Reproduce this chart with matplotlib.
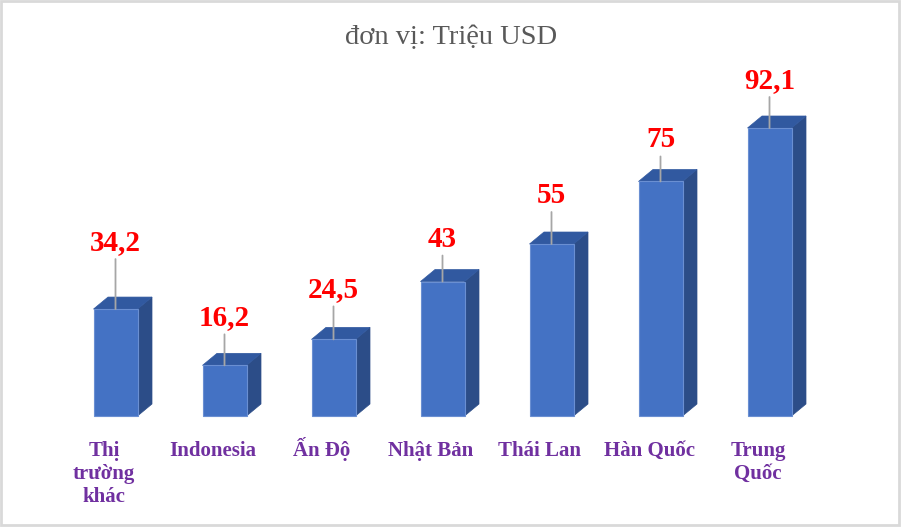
import matplotlib
matplotlib.use("Agg")
import matplotlib.pyplot as plt
from matplotlib.patches import Polygon, Rectangle

# ---- data ----
categories = ["Thị\ntrường\nkhác", "Indonesia", "Ấn Độ", "Nhật Bản",
              "Thái Lan", "Hàn Quốc", "Trung\nQuốc"]
values = [34.2, 16.2, 24.5, 43, 55, 75, 92.1]
title_text = "đơn vị: Triệu USD"

# ---- layout / style ----
label_lift_px = [59, 40, 42, 35, 41, 34, 40]   # label baseline above bar top
FRONT = "#4472C4"
SIDE = "#2C4D88"
TOP = "#3159A0"
EDGE = "#6A8FD2"
RED = "#FF0000"
PURPLE = "#7030A0"
GRAY = "#595959"
SERIF = ["Liberation Serif", "DejaVu Serif"]

W, H = 902, 527
fig = plt.figure(figsize=(W / 100, H / 100), dpi=100)
fig.patch.set_facecolor("white")

# axes geometry (pixels)
px_per_cat = 109.0
tick0_px = 104.0
xl, xr = -0.5, 6.7
left_px = tick0_px + xl * px_per_cat
right_px = tick0_px + xr * px_per_cat
bottom_px_from_top = 416.0
ymax = 100.0
px_per_unit = 3.127
top_px_from_top = bottom_px_from_top - ymax * px_per_unit

ax = fig.add_axes([left_px / W, (H - bottom_px_from_top) / H,
                   (right_px - left_px) / W,
                   (bottom_px_from_top - top_px_from_top) / H])
ax.set_xlim(xl, xr)
ax.set_ylim(0, ymax)
ax.axis("off")

shift = 11.5 / px_per_cat
bw = 44.0 / px_per_cat
dx = 14.5 / px_per_cat
dy = 12.0 / px_per_unit

for i, v in enumerate(values):
    xc = i + shift
    x0, x1 = xc - bw / 2, xc + bw / 2
    # side face
    ax.add_patch(Polygon([(x1, 0), (x1 + dx, dy), (x1 + dx, v + dy), (x1, v)],
                         closed=True, facecolor=SIDE, edgecolor=SIDE,
                         linewidth=0.5, clip_on=False, zorder=2))
    # top face
    ax.add_patch(Polygon([(x0, v), (x0 + dx, v + dy), (x1 + dx, v + dy), (x1, v)],
                         closed=True, facecolor=TOP, edgecolor=TOP,
                         linewidth=0.5, clip_on=False, zorder=2))
    # front face
    ax.add_patch(Rectangle((x0, 0), bw, v, facecolor=FRONT, edgecolor=EDGE,
                           linewidth=0.8, clip_on=False, zorder=3))
    # leader line
    lift = label_lift_px[i]
    ax.annotate("", xy=(xc, v), xytext=(0, lift - 9), textcoords="offset pixels",
                arrowprops=dict(arrowstyle="-", color="#A6A6A6", lw=1.3,
                                shrinkA=0, shrinkB=0), zorder=4,
                annotation_clip=False)
    # value label
    txt = f"{v:g}".replace(".", ",")
    ax.annotate(txt, xy=(xc, v), xytext=(0, lift), textcoords="offset pixels",
                ha="center", va="baseline", color=RED, fontsize=21,
                fontweight="bold", family=SERIF, zorder=5,
                annotation_clip=False)

# category labels
for i, cat in enumerate(categories):
    for k, line in enumerate(cat.split("\n")):
        ax.annotate(line, xy=(i, 0), xycoords=("data", "axes fraction"),
                    xytext=(0, -(39.7 + 23.3 * k)), textcoords="offset pixels",
                    ha="center", va="baseline", color=PURPLE, fontsize=15,
                    fontweight="bold", family=SERIF, annotation_clip=False)

# title
fig.text(0.5, 1 - 44.0 / H, title_text, ha="center", va="baseline",
         color=GRAY, fontsize=20.5, family=SERIF)

# outer border
fig.patches.append(Rectangle((0.5 / W, 2.0 / H), (W - 3.5) / W, (H - 3.0) / H,
                             transform=fig.transFigure, fill=False,
                             edgecolor="#D9D9D9", linewidth=2.0))

fig.savefig("out.png", dpi=100, facecolor="white")
